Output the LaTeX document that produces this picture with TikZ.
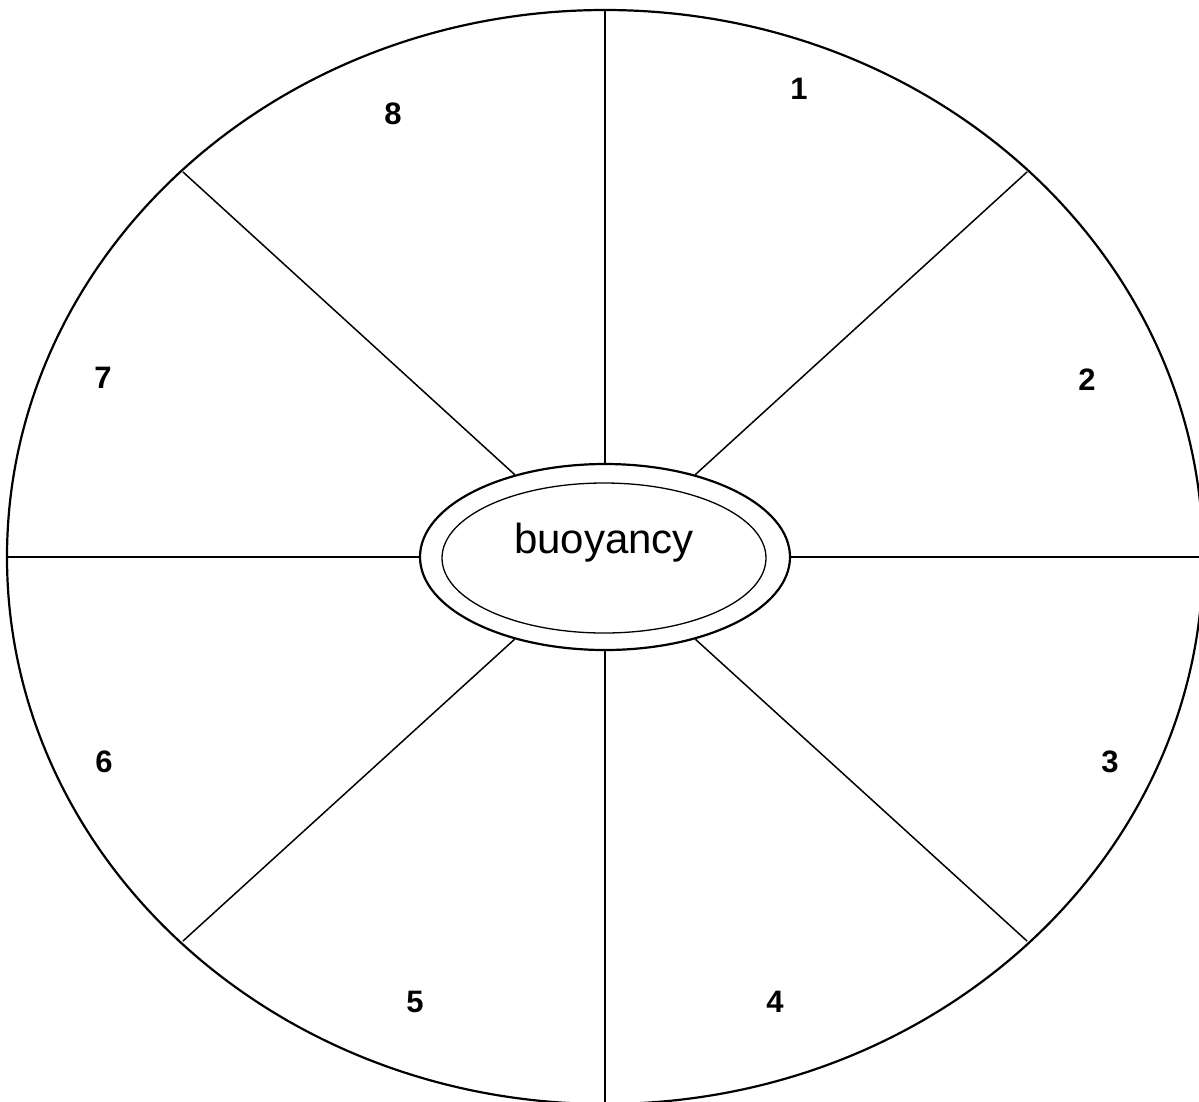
\documentclass[tikz,border=0pt]{standalone}
\usepackage{fontspec}
\setmainfont{Liberation Sans}
\usetikzlibrary{shapes.geometric}
\begin{document}
\begin{tikzpicture}[x=1pt,y=-1pt,
  spoke/.style={line width=1.5pt},
  numlbl/.style={font=\fontsize{31}{36}\selectfont\bfseries, inner sep=0pt},
  outerell/.style={ellipse, draw, line width=2.2pt, minimum width=1196pt, minimum height=1094pt, inner sep=0pt, outer sep=0pt},
  ringell/.style={ellipse, draw, line width=2.2pt, minimum width=370pt, minimum height=186pt, inner sep=0pt},
  innerell/.style={ellipse, draw, line width=1.3pt, minimum width=324pt, minimum height=150pt, inner sep=0pt}]
\clip (0,0) rectangle (1199,1101);
\fill[white] (0,0) rectangle (1199,1101);
\node[outerell] (outer) at (605,557) {};
\node[ringell] (ring) at (605,557) {};
\node[innerell] (inner) at (604,558) {};
\node[font=\fontsize{42}{50}\selectfont, anchor=base] (title) at (604,553) {buoyancy};
\coordinate (e1) at (605,10);
\coordinate (e2) at (1027,172);
\coordinate (e3) at (1205,557);
\coordinate (e4) at (1027,941);
\coordinate (e5) at (605,1104);
\coordinate (e6) at (183,941);
\coordinate (e7) at (7,557);
\coordinate (e8) at (183,172);
\foreach \i in {1,...,8}
  \draw[spoke] (ring) -- (e\i);
\node[numlbl] (n1) at (799,89) {1};
\node[numlbl] (n2) at (1087,380) {2};
\node[numlbl] (n3) at (1110,762) {3};
\node[numlbl] (n4) at (775,1002) {4};
\node[numlbl] (n5) at (415,1002) {5};
\node[numlbl] (n6) at (104,762) {6};
\node[numlbl] (n7) at (103,378) {7};
\node[numlbl] (n8) at (393,114) {8};
\end{tikzpicture}
\end{document}
